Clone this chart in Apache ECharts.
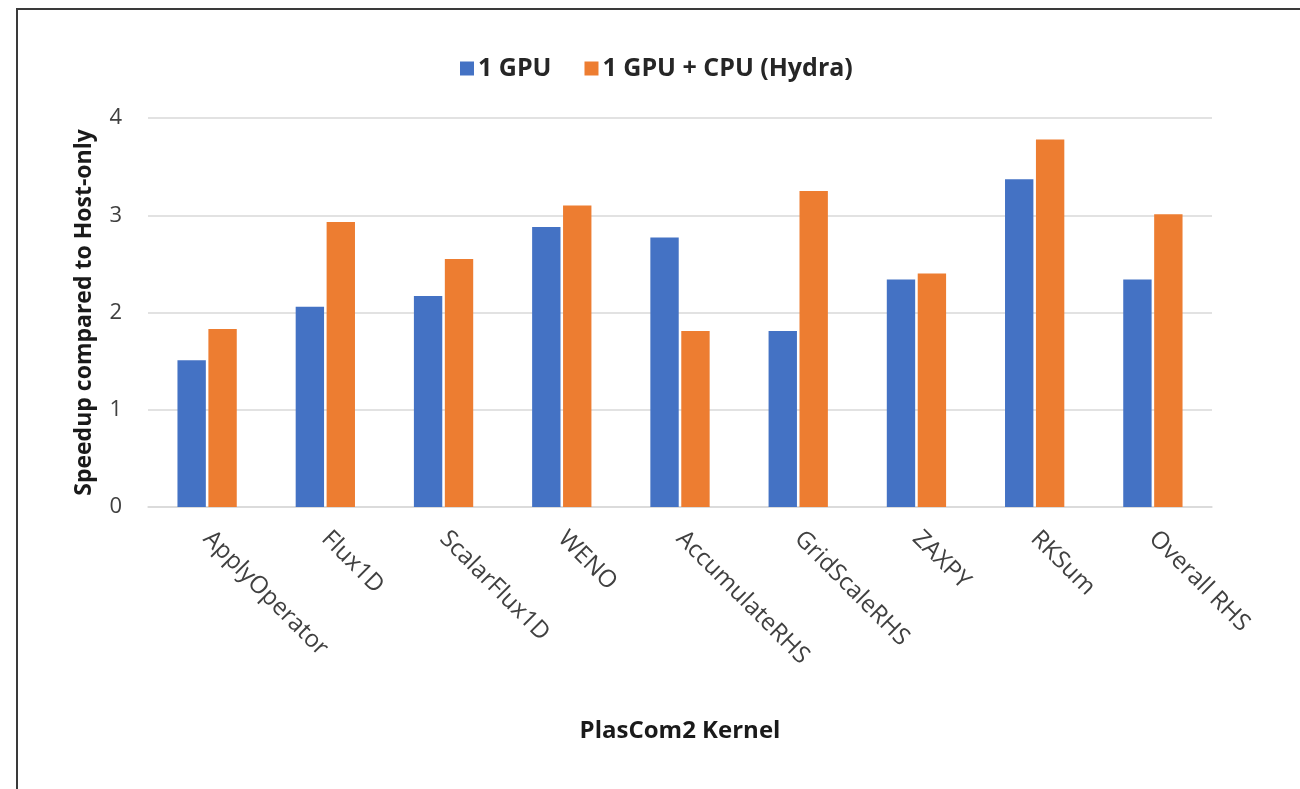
<!DOCTYPE html>
<html>
<head>
<meta charset="utf-8">
<script src="https://cdn.jsdelivr.net/npm/echarts@6/dist/echarts.min.js"></script>
<style>
  html, body { margin: 0; padding: 0; background: #ffffff; }
  #chart { width: 1300px; height: 789px; }
</style>
</head>
<body>
<div id="chart"></div>
<script>
// PlasCom2 kernel speedups relative to a host-only run
const kernels = ['ApplyOperator', 'Flux1D', 'ScalarFlux1D', 'WENO', 'AccumulateRHS',
                 'GridScaleRHS', 'ZAXPY', 'RKSum', 'Overall RHS'];
const seriesNames = ['1 GPU', '1 GPU + CPU (Hydra)'];
const gpuOnly = [1.51, 2.06, 2.17, 2.88, 2.77, 1.81, 2.34, 3.37, 2.34];
const gpuPlusCpu = [1.83, 2.93, 2.55, 3.10, 1.81, 3.25, 2.40, 3.78, 3.01];
const yTicks = [0, 1, 2, 3, 4];

const FONT = '"Open Sans", "Noto Sans", sans-serif';

const chart = echarts.init(document.getElementById('chart'), null, { renderer: 'canvas' });

chart.setOption({
  backgroundColor: '#ffffff',
  animation: false,
  color: ['#4472C4', '#ED7D31'],
  textStyle: { fontFamily: FONT },
  graphic: [{
    type: 'rect',
    silent: true,
    shape: { x: 17, y: 9, width: 1400, height: 900 },
    style: { fill: 'none', stroke: '#3a3a3a', lineWidth: 2 }
  }],
  legend: {
    data: seriesNames,
    left: 455,
    top: 51,
    icon: 'rect',
    itemWidth: 14,
    itemHeight: 14,
    itemGap: 33,
    textStyle: { fontFamily: FONT, fontSize: 25, fontWeight: 'bold', color: '#262626', padding: [0, 0, 0, -1] }
  },
  grid: { left: 148, right: 88, top: 118, bottom: 282, containLabel: false },
  xAxis: {
    type: 'category',
    data: kernels,
    name: 'PlasCom2 Kernel',
    nameLocation: 'middle',
    nameGap: 212,
    nameTextStyle: { fontFamily: FONT, fontSize: 24, fontWeight: 'bold', color: '#1a1a1a' },
    axisLine: { lineStyle: { color: '#D9D9D9', width: 1.5 } },
    axisTick: { show: false },
    axisLabel: {
      rotate: -45,
      interval: 0,
      margin: 28,
      fontFamily: FONT,
      fontSize: 24,
      color: '#404040'
    }
  },
  yAxis: {
    type: 'value',
    min: yTicks[0],
    max: yTicks[yTicks.length - 1],
    interval: 1,
    name: 'Speedup compared to Host-only',
    nameLocation: 'middle',
    nameGap: 52,
    nameTextStyle: { fontFamily: FONT, fontSize: 23, fontWeight: 'bold', color: '#1a1a1a' },
    axisLine: { show: false },
    axisTick: { show: false },
    axisLabel: { margin: 26, fontFamily: FONT, fontSize: 22, color: '#404040' },
    splitLine: { lineStyle: { color: '#D9D9D9', width: 1.5 } }
  },
  series: [
    {
      name: seriesNames[0],
      type: 'bar',
      data: gpuOnly,
      barWidth: '24%',
      barGap: '9%'
    },
    {
      name: seriesNames[1],
      type: 'bar',
      data: gpuPlusCpu,
      barWidth: '24%',
      barGap: '9%'
    }
  ]
});
</script>
</body>
</html>
